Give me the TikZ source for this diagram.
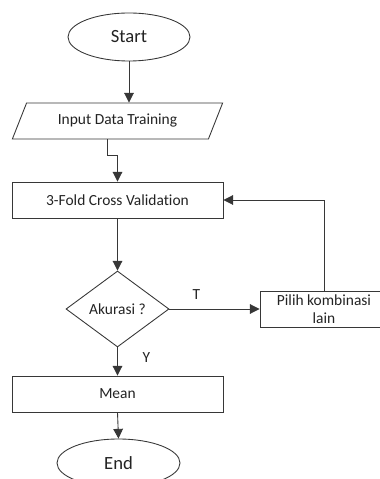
\documentclass[tikz,border=0pt]{standalone}
\usepackage{fontspec}
\setmainfont[Ligatures=NoCommon]{Carlito}
\usepackage{tikz}
\usetikzlibrary{arrows.meta,shapes.geometric,positioning}
\usepackage{xcolor}
\definecolor{edge}{RGB}{55,55,55}
\definecolor{ink}{RGB}{35,35,35}

\begin{document}
\begin{tikzpicture}[
    every node/.style={text=ink, font=\fontsize{8.8}{10.5}\selectfont, inner sep=0pt},
    terminal/.style={draw=edge, line width=0.5pt, ellipse, minimum width=2.44cm, minimum height=0.96cm, font=\fontsize{10.6}{12}\selectfont},
    io/.style={draw=edge, line width=0.5pt, trapezium, trapezium left angle=55, trapezium right angle=125, trapezium stretches=true, minimum width=4.22cm, minimum height=0.72cm},
    process/.style={draw=edge, line width=0.5pt, rectangle, minimum width=4.22cm, minimum height=0.72cm},
    decision/.style={draw=edge, line width=0.5pt, diamond, minimum width=2.06cm, minimum height=1.52cm},
    flow/.style={draw=edge, line width=0.5pt, -{Triangle[length=5.5pt,width=5.5pt]}}
  ]
  \useasboundingbox (0,0) rectangle (7.58,9.58);
  % nodes
  \node[terminal] (start) at (2.58,8.84) {Start};
  \node[io] (input) at (2.35,7.16) {Input Data Training};
  \node[process] (cv) at (2.35,5.58) {3-Fold Cross Validation};
  \node[decision] (acc) at (2.35,3.40) {Akurasi ?};
  \node[process, minimum width=2.56cm, align=center] (other) at (6.48,3.40) {Pilih kombinasi\\lain};
  \node[process] (mean) at (2.35,1.70) {Mean};
  \node[terminal, minimum width=2.46cm] (end) at (2.37,0.32) {End};
  % connectors
  \draw[flow] (start.south) -- (start.south |- input.north);
  \draw[flow] ([xshift=-0.21cm]input.south) -- ++(0,-0.32) -| (cv.north);
  \draw[flow] (cv.south) -- (acc.north);
  \draw[flow] (acc.east) -- node[pos=0.3, above=5pt] {T} (other.west);
  \draw[flow] (other.north) |- (cv.east);
  \draw[flow] (acc.south) -- node[pos=0.35, right=14pt] {Y} (mean.north);
  \draw[flow] (mean.south) -- (end.north);
\end{tikzpicture}
\end{document}
